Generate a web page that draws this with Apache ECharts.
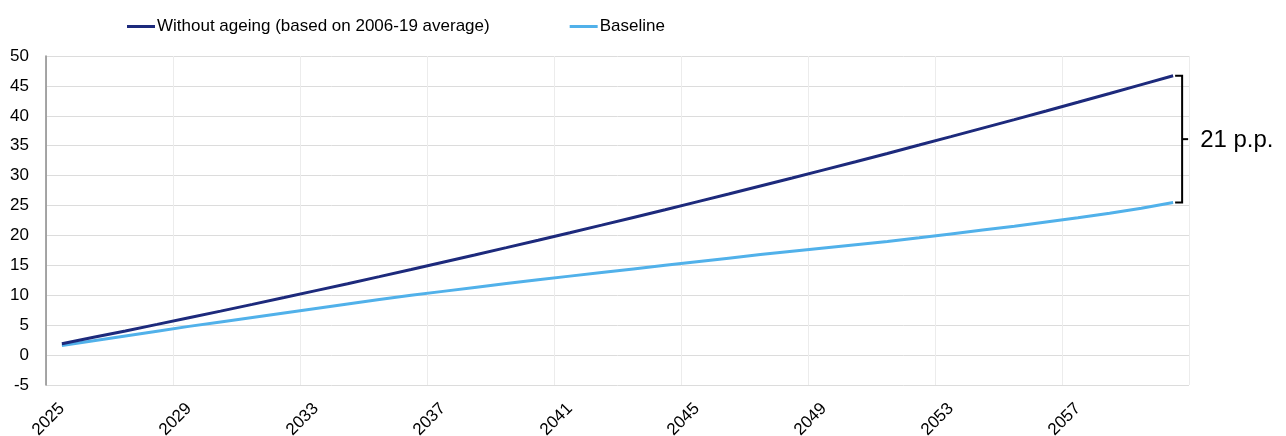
<!DOCTYPE html>
<html>
<head>
<meta charset="utf-8">
<script src="https://cdn.jsdelivr.net/npm/echarts@6/dist/echarts.min.js"></script>
<style>
html,body{margin:0;padding:0;background:#fff;}
#chart{width:1286px;height:436px;}
</style>
</head>
<body>
<div id="chart"></div>
<script>
var years = [];
for (var y = 2025; y <= 2060; y++) years.push(String(y));

var withoutAgeing = [1.9, 2.97, 4.04, 5.13, 6.24, 7.35, 8.48, 9.62, 10.78, 11.94,
  13.12, 14.31, 15.52, 16.73, 17.96, 19.2, 20.46, 21.73, 23.01, 24.3,
  25.61, 26.93, 28.26, 29.6, 30.96, 32.33, 33.71, 35.11, 36.52, 37.94,
  39.37, 40.81, 42.27, 43.74, 45.22, 46.7];

var baseline = [1.6, 2.4, 3.2, 4.0, 4.8, 5.55, 6.3, 7.05, 7.8, 8.55,
  9.3, 10.0, 10.65, 11.3, 11.95, 12.6, 13.2, 13.8, 14.4, 15.0,
  15.6, 16.2, 16.8, 17.35, 17.9, 18.45, 19.0, 19.6, 20.25, 20.9,
  21.55, 22.25, 22.95, 23.7, 24.55, 25.5];

var seriesNames = ['Without ageing (based on 2006-19 average)', 'Baseline'];
var gapLabel = '21 p.p.';
var yTicks = { min: -5, max: 50, interval: 5 };

var FONT = '"Liberation Sans", Arial, sans-serif';
var chart = echarts.init(document.getElementById('chart'), null, { renderer: 'canvas' });

var last = years.length - 1;

chart.setOption({
  animation: false,
  backgroundColor: '#ffffff',
  textStyle: { fontFamily: FONT, color: '#000' },
  grid: { left: 46, right: 97, top: 56, bottom: 51, containLabel: false, outerBoundsMode: 'none' },
  legend: {
    data: seriesNames,
    left: 122,
    top: 13,
    itemWidth: 28,
    itemHeight: 3,
    itemGap: 80,
    icon: 'rect',
    textStyle: { fontFamily: FONT, fontSize: 17, color: '#000', padding: [0, 0, 0, -3] }
  },
  xAxis: {
    type: 'category',
    data: years,
    boundaryGap: true,
    axisLine: { show: false },
    axisTick: { show: false },
    axisLabel: {
      interval: 3,
      rotate: 45,
      margin: 21,
      fontFamily: FONT,
      fontSize: 17,
      color: '#000'
    },
    splitLine: { show: true, interval: 3, lineStyle: { color: '#ececec', width: 1 } }
  },
  yAxis: {
    type: 'value',
    min: yTicks.min,
    max: yTicks.max,
    interval: yTicks.interval,
    axisLine: { show: true, lineStyle: { color: '#8a8a8a', width: 1.5 } },
    axisTick: { show: false },
    axisLabel: { margin: 17, fontFamily: FONT, fontSize: 17, color: '#000' },
    splitLine: { show: true, lineStyle: { color: '#dcdcdc', width: 1 } }
  },
  series: [
    {
      name: seriesNames[0],
      type: 'line',
      data: withoutAgeing,
      showSymbol: false,
      symbol: 'none',
      smooth: false,
      lineStyle: { color: '#1d2a7c', width: 3 },
      itemStyle: { color: '#1d2a7c' },
      z: 3
    },
    {
      name: seriesNames[1],
      type: 'line',
      data: baseline,
      showSymbol: false,
      symbol: 'none',
      smooth: false,
      lineStyle: { color: '#51b1ea', width: 3 },
      itemStyle: { color: '#51b1ea' },
      z: 2
    },
    {
      type: 'custom',
      name: 'gap',
      clip: false,
      silent: true,
      z: 5,
      data: [[last, baseline[last], withoutAgeing[last]]],
      renderItem: function (params, api) {
        var top = api.coord([api.value(0), api.value(2)]);
        var bot = api.coord([api.value(0), api.value(1)]);
        var x0 = top[0] + 2;
        var xv = top[0] + 9;
        var ym = (top[1] + bot[1]) / 2;
        return {
          type: 'group',
          children: [
            {
              type: 'polyline',
              shape: { points: [[x0, top[1]], [xv, top[1]], [xv, bot[1]], [x0, bot[1]]] },
              style: { stroke: '#000', lineWidth: 2, fill: null }
            },
            {
              type: 'line',
              shape: { x1: xv, y1: ym, x2: xv + 6, y2: ym },
              style: { stroke: '#000', lineWidth: 2 }
            },
            {
              type: 'text',
              style: {
                text: gapLabel,
                x: xv + 18,
                y: ym + 1,
                verticalAlign: 'middle',
                align: 'left',
                fontFamily: FONT,
                fontSize: 24,
                fill: '#000'
              }
            }
          ]
        };
      }
    }
  ]
});
</script>
</body>
</html>
